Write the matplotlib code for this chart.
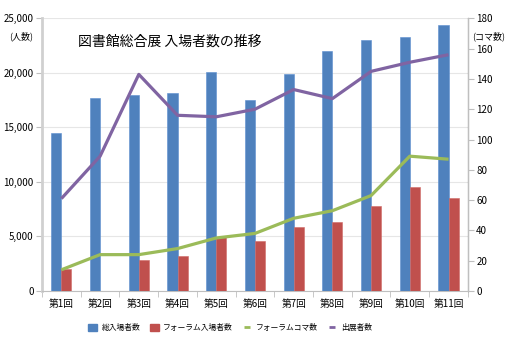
import matplotlib
matplotlib.use("Agg")
import matplotlib.pyplot as plt
import numpy as np
from matplotlib.patches import Patch
from matplotlib.lines import Line2D

plt.rcParams['font.family'] = ['Noto Sans CJK JP', 'DejaVu Sans']

categories = ["第1回", "第2回", "第3回", "第4回", "第5回", "第6回", "第7回", "第8回", "第9回", "第10回", "第11回"]
total_visitors = [14450, 17700, 17950, 18130, 20120, 17550, 19930, 22000, 23010, 23290, 24390]
forum_visitors = [2060, np.nan, 2820, 3220, 4920, 4620, 5870, 6330, 7820, 9500, 8490]
forum_koma = [14, 24, 24, 28, 35, 38, 48, 53, 63, 89, 87]
exhibitors = [61, 89, 143, 116, 115, 120, 133, 127, 145, 151, 156]

left_ticks = [0, 5000, 10000, 15000, 20000, 25000]
right_ticks = [0, 20, 40, 60, 80, 100, 120, 140, 160, 180]

c_blue = "#4F81BD"
c_red = "#C0504D"
c_green = "#9BBB59"
c_purple = "#8064A2"

fig = plt.figure(figsize=(5.1, 3.5), dpi=100)
ax = fig.add_axes([0.0824, 0.1686, 0.835, 0.779])
ax2 = ax.twinx()

x = np.arange(len(categories))
w = 0.26
ax.bar(x - w / 2, total_visitors, width=w, color=c_blue, edgecolor="#5B8ED0", linewidth=0.4, zorder=3)
ax.bar(x + w / 2, forum_visitors, width=w, color=c_red, edgecolor="#D06A67", linewidth=0.4, zorder=3)

ax2.plot(x, forum_koma, color=c_green, lw=2.3, solid_capstyle='butt', zorder=4)
ax2.plot(x, exhibitors, color=c_purple, lw=2.3, solid_capstyle='butt', zorder=4)

ax.set_xlim(-0.5, len(categories) - 0.5)
ax.set_ylim(0, 25000)
ax2.set_ylim(0, 180)
ax.set_yticks(left_ticks)
ax.set_yticklabels([f"{v:,}" for v in left_ticks], fontsize=7)
ax2.set_yticks(right_ticks)
ax2.set_yticklabels([str(v) for v in right_ticks], fontsize=7)

ax.set_xticks(x)
ax.set_xticklabels(categories, fontsize=7)
ax.set_xticks(np.arange(-0.5, len(categories) + 0.5, 1), minor=True)
ax.tick_params(axis='x', which='major', length=0, pad=6)
ax.tick_params(axis='x', which='minor', length=4, color="#BFBFBF")
ax.tick_params(axis='y', length=4, color="#BFBFBF", pad=2)
ax2.tick_params(axis='y', length=4, color="#BFBFBF", pad=2)

ax.grid(axis='y', color="#E6E6E6", lw=0.8, zorder=0)
ax.set_axisbelow(True)
for a in (ax, ax2):
    a.spines['top'].set_visible(False)
ax.spines['left'].set_color("#D0D0D0")
ax.spines['left'].set_linewidth(2)
ax.spines['bottom'].set_color("#BFBFBF")
ax2.spines['left'].set_visible(False)
ax2.spines['bottom'].set_visible(False)
ax2.spines['right'].set_color("#BFBFBF")

fig.text(0.153, 0.88, "図書館総合展 入場者数の推移", fontsize=10, ha='left', va='center')
fig.text(0.018, 0.897, "(人数)", fontsize=6.5, ha='left', va='center')
fig.text(0.925, 0.897, "(コマ数)", fontsize=6.5, ha='left', va='center')

handles = [
    Patch(facecolor=c_blue, edgecolor=c_blue),
    Patch(facecolor=c_red, edgecolor=c_red),
    Line2D([], [], color=c_green, marker='_', linestyle='None', markersize=4, markeredgewidth=2),
    Line2D([], [], color=c_purple, marker='_', linestyle='None', markersize=4, markeredgewidth=2),
]
labels = ["総入場者数", "フォーラム入場者数", "フォーラムコマ数", "出展者数"]
fig.legend(handles, labels, loc='center', bbox_to_anchor=(0.451, 0.063), ncol=4, frameon=False,
           fontsize=5.6, handlelength=1.15, handleheight=1.15, handletextpad=0.6, columnspacing=1.2)

fig.savefig("out.png", dpi=100)
